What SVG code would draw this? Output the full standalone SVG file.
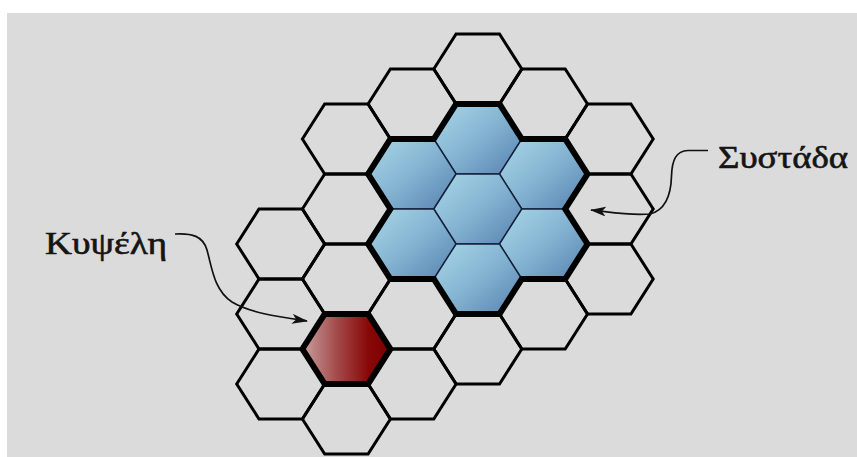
<svg xmlns="http://www.w3.org/2000/svg" xmlns:xlink="http://www.w3.org/1999/xlink" width="857" height="457" viewBox="0 0 857 457">
  <style>
    .cell { fill: none; stroke: #000; stroke-width: 3; stroke-linejoin: miter; }
    .blue { fill: url(#blueGrad); stroke: #14213d; stroke-width: 1.4; }
    .red { fill: url(#redGrad); stroke: #000; stroke-width: 6; stroke-linejoin: miter; }
    .outline { fill: none; stroke: #000; stroke-width: 6; stroke-linejoin: miter; }
    .label { font-family: "Liberation Serif", "DejaVu Serif", serif; font-size: 31px; fill: #151515; stroke: #151515; stroke-width: 0.6; }
    .conn { fill: none; stroke: #111; stroke-width: 1.7; }
  </style>
  <defs>
    <path id="hex" d="M-44,0 L-21.7,-35 L21.7,-35 L44,0 L21.7,35 L-21.7,35 Z"/>
    <linearGradient id="blueGrad" x1="0.1" y1="0.15" x2="0.95" y2="0.95">
      <stop offset="0" stop-color="#a0cfe2"/>
      <stop offset="0.45" stop-color="#84b4d2"/>
      <stop offset="1" stop-color="#5b86b3"/>
    </linearGradient>
    <linearGradient id="redGrad" x1="0" y1="0" x2="1" y2="0">
      <stop offset="0" stop-color="#c9a0a0"/>
      <stop offset="0.4" stop-color="#a34848"/>
      <stop offset="0.75" stop-color="#880808"/>
      <stop offset="1" stop-color="#7a0000"/>
    </linearGradient>
    <marker id="arrow" viewBox="0 0 16 10" refX="15" refY="5" markerWidth="16" markerHeight="10" markerUnits="userSpaceOnUse" orient="auto">
      <path d="M0,0 L16,5 L0,10 L4,5 Z" fill="#111"/>
    </marker>
  </defs>

  <rect x="0" y="0" width="857" height="457" fill="#ffffff"/>
  <rect x="7" y="13" width="850" height="444" fill="#dbdbdb"/>

  <!-- white cells -->
  <g id="cell-A1"><use xlink:href="#hex" href="#hex" class="cell" x="280.7" y="244"/></g>
  <g id="cell-A2"><use xlink:href="#hex" href="#hex" class="cell" x="280.7" y="314"/></g>
  <g id="cell-A3"><use xlink:href="#hex" href="#hex" class="cell" x="280.7" y="384"/></g>

  <g id="cell-B1"><use xlink:href="#hex" href="#hex" class="cell" x="346.4" y="139"/></g>
  <g id="cell-B2"><use xlink:href="#hex" href="#hex" class="cell" x="346.4" y="209"/></g>
  <g id="cell-B3"><use xlink:href="#hex" href="#hex" class="cell" x="346.4" y="279"/></g>
  <g id="cell-B5"><use xlink:href="#hex" href="#hex" class="cell" x="346.4" y="419"/></g>

  <g id="cell-C1"><use xlink:href="#hex" href="#hex" class="cell" x="412.1" y="104"/></g>
  <g id="cell-C4"><use xlink:href="#hex" href="#hex" class="cell" x="412.1" y="314"/></g>
  <g id="cell-C5"><use xlink:href="#hex" href="#hex" class="cell" x="412.1" y="384"/></g>

  <g id="cell-D1"><use xlink:href="#hex" href="#hex" class="cell" x="477.8" y="69"/></g>
  <g id="cell-D5"><use xlink:href="#hex" href="#hex" class="cell" x="477.8" y="349"/></g>

  <g id="cell-E1"><use xlink:href="#hex" href="#hex" class="cell" x="543.5" y="104"/></g>
  <g id="cell-E4"><use xlink:href="#hex" href="#hex" class="cell" x="543.5" y="314"/></g>

  <g id="cell-F1"><use xlink:href="#hex" href="#hex" class="cell" x="609.2" y="139"/></g>
  <g id="cell-F2"><use xlink:href="#hex" href="#hex" class="cell" x="609.2" y="209"/></g>
  <g id="cell-F3"><use xlink:href="#hex" href="#hex" class="cell" x="609.2" y="279"/></g>

  <!-- cluster cells -->
  <g id="cluster-D2"><use xlink:href="#hex" href="#hex" class="blue" x="477.8" y="139"/></g>
  <g id="cluster-C2"><use xlink:href="#hex" href="#hex" class="blue" x="412.1" y="174"/></g>
  <g id="cluster-E2"><use xlink:href="#hex" href="#hex" class="blue" x="543.5" y="174"/></g>
  <g id="cluster-D3"><use xlink:href="#hex" href="#hex" class="blue" x="477.8" y="209"/></g>
  <g id="cluster-C3"><use xlink:href="#hex" href="#hex" class="blue" x="412.1" y="244"/></g>
  <g id="cluster-E3"><use xlink:href="#hex" href="#hex" class="blue" x="543.5" y="244"/></g>
  <g id="cluster-D4"><use xlink:href="#hex" href="#hex" class="blue" x="477.8" y="279"/></g>

  <g id="cluster-outline">
    <path class="outline" d="M456.1,104 L499.5,104 L521.8,139 L565.2,139 L587.5,174 L565.2,209 L587.5,244 L565.2,279 L521.8,279 L499.5,314 L456.1,314 L433.8,279 L390.4,279 L368.1,244 L390.4,209 L368.1,174 L390.4,139 L433.8,139 Z"/>
  </g>

  <!-- the highlighted cell -->
  <g id="cell-B4"><use xlink:href="#hex" href="#hex" class="red" x="346.4" y="349"/></g>

  <!-- connectors -->
  <g id="connectors">
    <path class="conn" marker-end="url(#arrow)" d="M175,234 C192,233 203,236 207,250 C212,268 214,290 232,302 C250,313 280,317 307,321"/>
    <path class="conn" marker-end="url(#arrow)" d="M708,150.5 L688,150.5 C676,151 672,160 671.5,176 C671,195 666,210 650,214 C630,216 610,212 591,210"/>
  </g>

  <!-- labels -->
  <g id="label-cell"><text class="label" x="45" y="254" textLength="122" lengthAdjust="spacingAndGlyphs">Κυψέλη</text></g>
  <g id="label-cluster"><text class="label" x="718" y="167.5" textLength="130" lengthAdjust="spacingAndGlyphs">Συστάδα</text></g>
</svg>
